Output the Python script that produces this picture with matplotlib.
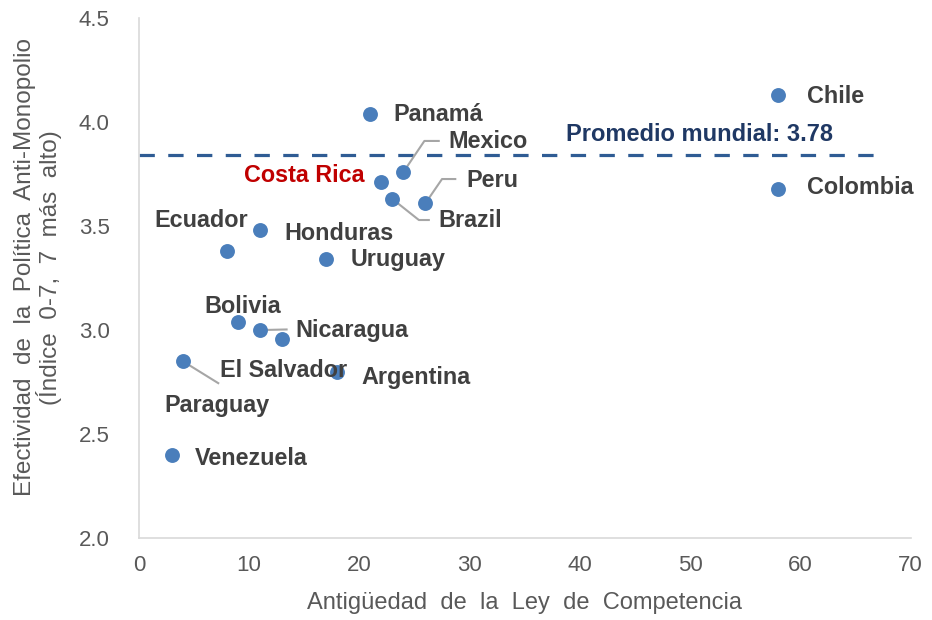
import matplotlib.pyplot as plt

plt.rcParams['font.family'] = ['Liberation Sans', 'DejaVu Sans']

# datos: antigüedad de la ley (años) y efectividad de la política anti-monopolio
paises = ['Chile', 'Colombia', 'Panamá', 'Mexico', 'Costa Rica', 'Brazil', 'Peru',
          'Ecuador', 'Honduras', 'Uruguay', 'Bolivia', 'Nicaragua', 'El Salvador',
          'Argentina', 'Paraguay', 'Venezuela']
antiguedad = [58, 58, 21, 24, 22, 23, 26, 8, 11, 17, 9, 11, 13, 18, 4, 3]
efectividad = [4.13, 3.68, 4.04, 3.76, 3.71, 3.63, 3.61, 3.38, 3.48, 3.34,
               3.04, 3.00, 2.955, 2.80, 2.85, 2.40]
promedio = 3.84
promedio_txt = 'Promedio mundial: 3.78'

# posición de las etiquetas (esquina izquierda, centro vertical)
etiqueta_x = [60.6, 60.6, 23.1, 28.1, 9.5, 27.2, 29.7, 1.4, 13.2, 19.2,
              5.9, 14.2, 7.4, 20.2, 2.3, 5.1]
etiqueta_y = [4.125, 3.683, 4.038, 3.904, 3.745, 3.529, 3.721, 3.529, 3.466, 3.337,
              3.115, 3.0, 2.808, 2.774, 2.639, 2.385]

# líneas guía: país -> puntos intermedios
guias = {
    'Mexico': [(25.9, 3.909), (27.2, 3.909)],
    'Peru': [(27.5, 3.726), (28.7, 3.726)],
    'Brazil': [(25.4, 3.529), (26.3, 3.529)],
    'Nicaragua': [(13.4, 3.003)],
    'Paraguay': [(7.2, 2.745)],
}

fig = plt.figure(figsize=(9.32, 6.2), dpi=100)
ax = fig.add_axes([0.149, 0.132, 0.828, 0.839])

gris = '#404040'
for p, pts in guias.items():
    i = paises.index(p)
    xs = [antiguedad[i]] + [q[0] for q in pts]
    ys = [efectividad[i]] + [q[1] for q in pts]
    ax.plot(xs, ys, color='#A6A6A6', lw=1.5, zorder=2)

ax.scatter(antiguedad, efectividad, s=115, color='#4A7EBB', zorder=3, linewidths=0)

ax.plot([0, 67.5], [promedio, promedio], ls=(0, (4.8, 4.2)), color='#2F5C94', lw=2.3, zorder=1)
ax.text(38.7, 3.942, promedio_txt, fontsize=17, fontweight='bold', color='#1F3864', va='center')

for i, p in enumerate(paises):
    c = '#C00000' if p == 'Costa Rica' else gris
    ax.text(etiqueta_x[i], etiqueta_y[i], p, fontsize=16.8, fontweight='bold', color=c, va='center')

ax.set_xlim(0, 70)
ax.set_ylim(2.0, 4.5)
ax.set_xticks(range(0, 71, 10))
ax.set_yticks([2.0, 2.5, 3.0, 3.5, 4.0, 4.5])
ax.set_yticklabels(['2.0', '2.5', '3.0', '3.5', '4.0', '4.5'])
ax.tick_params(length=0, labelsize=16, colors='#595959')
ax.tick_params(axis='x', pad=12)
ax.tick_params(axis='y', pad=21)
for s in ['top', 'right']:
    ax.spines[s].set_visible(False)
for s in ['left', 'bottom']:
    ax.spines[s].set_color('#D9D9D9')
    ax.spines[s].set_linewidth(1.2)

ax.set_xlabel('Antigüedad  de  la  Ley  de  Competencia', fontsize=17, color='#595959', labelpad=12)
ax.set_ylabel('Efectividad  de  la  Política  Anti-Monopolio\n(Índice  0-7,  7  más  alto)',
              fontsize=17.5, color='#595959', linespacing=1.0)
ax.yaxis.set_label_coords(-0.1, 0.521)

fig.savefig('out.png')
